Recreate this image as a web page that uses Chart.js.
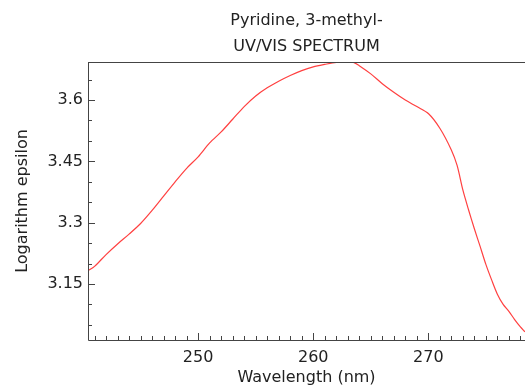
<!DOCTYPE html>
<html>
<head>
<meta charset="utf-8">
<script src="https://cdn.jsdelivr.net/npm/chart.js@4/dist/chart.umd.min.js"></script>
<style>
  html, body { margin: 0; padding: 0; background: #fff; }
  #wrap { width: 525px; height: 387px; }
</style>
</head>
<body>
<div id="wrap"><canvas id="myChart" width="525" height="387"></canvas></div>
<script>
// * Data
const wavelengths = [240.4, 241, 242, 243, 244, 245, 246, 247, 248, 249, 250, 251, 252, 253, 254, 255, 256, 257, 258, 259, 260, 261, 262, 263, 263.5, 264, 265, 266, 267, 268, 269, 270, 271, 272, 272.5, 273, 273.5, 274, 274.5, 275, 275.5, 276, 276.5, 277, 277.5, 278, 278.4];
const logEpsilon = [3.182, 3.193, 3.222, 3.248, 3.272, 3.298, 3.330, 3.365, 3.400, 3.433, 3.461, 3.495, 3.522, 3.553, 3.584, 3.610, 3.630, 3.646, 3.660, 3.672, 3.681, 3.687, 3.692, 3.693, 3.692, 3.684, 3.664, 3.640, 3.619, 3.600, 3.584, 3.567, 3.531, 3.478, 3.440, 3.380, 3.331, 3.285, 3.242, 3.198, 3.160, 3.125, 3.100, 3.083, 3.063, 3.045, 3.033];
const xTickLabels = [250, 260, 270];
const yTickLabels = ["3.15", "3.3", "3.45", "3.6"];
const titleLines = ["Pyridine, 3-methyl-", "UV/VIS SPECTRUM"];

// * Constants
const TEXT = "#222";
const AXIS = "#444";
const LINE = "#ff4040";
const FONT = "'DejaVu Sans', sans-serif";

// * Plugin: frame and inward tick marks
const tickMarks = {
  id: "tickMarks",
  afterDraw(chart) {
    const { ctx, chartArea: a, scales } = chart;
    const x = scales.x;
    const y = scales.y;
    ctx.save();
    ctx.strokeStyle = AXIS;
    ctx.lineWidth = 1;
    ctx.beginPath();
    ctx.moveTo(a.left + 0.5, a.top + 0.5);
    ctx.lineTo(a.right, a.top + 0.5);
    ctx.moveTo(a.left + 0.5, a.top);
    ctx.lineTo(a.left + 0.5, a.bottom + 0.5);
    ctx.lineTo(a.right, a.bottom + 0.5);

    for (let v = 241; v <= 278; v++) {
      const px = Math.round(x.getPixelForValue(v)) + 0.5;
      const len = v % 10 === 0 ? 7 : 4;
      ctx.moveTo(px, a.bottom);
      ctx.lineTo(px, a.bottom - len);
    }
    for (let i = 61; i <= 73; i++) {
      const py = Math.round(y.getPixelForValue(i * 0.05)) + 0.5;
      const len = i % 3 === 0 ? 7 : 4;
      ctx.moveTo(a.left, py);
      ctx.lineTo(a.left + len, py);
    }
    ctx.stroke();
    ctx.restore();
  },
};

// * Chart
const Canvas = document.getElementById("myChart").getContext("2d");

const data = {
  datasets: [
    {
      data: wavelengths.map((w, i) => ({ x: w, y: logEpsilon[i] })),
      borderColor: LINE,
      borderWidth: 1.2,
      pointRadius: 0,
      fill: false,
      tension: 0.3,
    },
  ],
};

const config = {
  type: "line",
  data: data,
  plugins: [tickMarks],
  options: {
    responsive: false,
    animation: false,
    layout: { padding: { left: 0, right: 0, top: 0, bottom: 0 } },
    plugins: {
      legend: { display: false },
      tooltip: { enabled: false },
      title: {
        display: true,
        fullSize: false,
        text: titleLines,
        color: TEXT,
        font: { family: FONT, size: 16, weight: "normal", lineHeight: 26 / 16 },
        padding: { top: 8, bottom: 2 },
      },
    },
    scales: {
      x: {
        type: "linear",
        min: 240.43,
        max: 278.4,
        grid: { display: false, drawTicks: false },
        border: { display: false },
        afterBuildTicks: (scale) => {
          scale.ticks = xTickLabels.map((v) => ({ value: v }));
        },
        afterFit: (scale) => {
          scale.height = 47;
        },
        ticks: {
          color: TEXT,
          padding: 8,
          font: { family: FONT, size: 16 },
          callback: (value) => String(value),
        },
        title: {
          display: true,
          text: "Wavelength (nm)",
          color: TEXT,
          font: { family: FONT, size: 16 },
          padding: { top: 0, bottom: 0 },
        },
      },
      y: {
        type: "linear",
        min: 3.013,
        max: 3.693,
        grid: { display: false, drawTicks: false },
        border: { display: false },
        afterBuildTicks: (scale) => {
          scale.ticks = yTickLabels.map((v) => ({ value: parseFloat(v) }));
        },
        afterFit: (scale) => {
          scale.width = 88;
        },
        ticks: {
          color: TEXT,
          padding: 5,
          font: { family: FONT, size: 16 },
          callback: (value) => yTickLabels.find((t) => parseFloat(t) === value) || String(value),
        },
        title: {
          display: true,
          text: "Logarithm epsilon",
          color: TEXT,
          font: { family: FONT, size: 16 },
          padding: { top: 13, bottom: 0 },
        },
      },
    },
  },
};

const myChart = new Chart(Canvas, config);
</script>
</body>
</html>
